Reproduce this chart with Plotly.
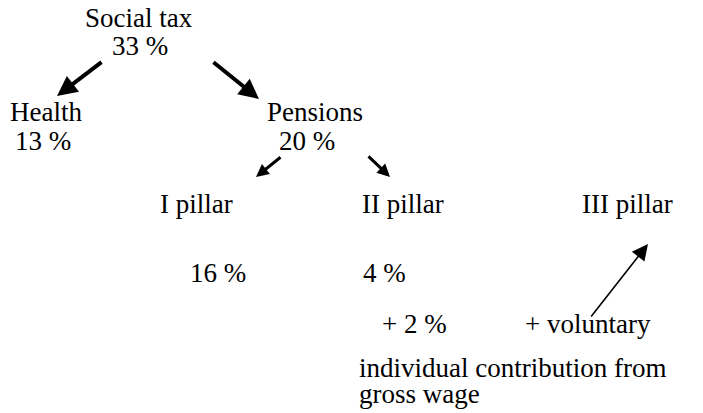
import plotly.graph_objects as go

# ---- data ----
node_labels = ["Social tax", "Health", "Pensions", "I pillar", "II pillar", "III pillar"]
node_shares = ["33 %", "13 %", "20 %", "16 %", "4 %", ""]
extra_labels = ["+ 2 %", "+ voluntary"]
note_lines = ["individual contribution from", "gross wage"]

# ---- layout positions (pixel coords, left edge / baseline) ----
FS = 27
label_pos = [(83, 27), (8, 121), (265, 121), (158, 213), (360, 213), (580, 213)]
share_pos = [(110, 55), (13, 150), (277, 150), (188, 282), (361, 282), None]
extra_pos = [(380, 333), (523, 333)]
note_pos = [(357, 377), (357, 403)]

# arrows: (tail_x, tail_y, head_x, head_y, width, size)
arrows = [
    (103, 61, 57, 96, 4, 1.0),
    (212, 61, 259, 99, 4, 1.0),
    (282, 156, 256, 177, 3, 0.85),
    (367, 155, 390, 177, 3, 0.85),
    (590, 318, 648, 244, 1.6, 2.0),
]

W, H = 703, 413
fig = go.Figure()
fig.add_trace(go.Scatter(x=[0, W], y=[0, H], mode="markers",
                         marker=dict(opacity=0), hoverinfo="skip", showlegend=False))

font = dict(family="Liberation Serif", size=FS, color="black")
ann = []

def add_text(t, pos):
    x, base = pos
    ann.append(dict(x=x, y=base - 0.33 * FS, text=t, xref="x", yref="y",
                    xanchor="left", yanchor="middle", showarrow=False, font=font))

for t, p in zip(node_labels, label_pos):
    add_text(t, p)
for t, p in zip(node_shares, share_pos):
    if p is not None and t:
        add_text(t, p)
for t, p in zip(extra_labels, extra_pos):
    add_text(t, p)
for t, p in zip(note_lines, note_pos):
    add_text(t, p)

for tx, ty, hx, hy, w, s in arrows:
    ann.append(dict(x=hx, y=hy, ax=tx, ay=ty, xref="x", yref="y", axref="x", ayref="y",
                    text="", showarrow=True, arrowhead=2, arrowwidth=w, arrowsize=s,
                    arrowcolor="black", standoff=0))

fig.update_layout(
    width=W, height=H, margin=dict(l=0, r=0, t=0, b=0),
    paper_bgcolor="white", plot_bgcolor="white",
    xaxis=dict(range=[0, W], visible=False, fixedrange=True),
    yaxis=dict(range=[H, 0], visible=False, fixedrange=True),
    annotations=ann, showlegend=False,
)
fig.write_html("out.html", config={"displayModeBar": False},
               post_script="document.body.style.margin='0px';")
